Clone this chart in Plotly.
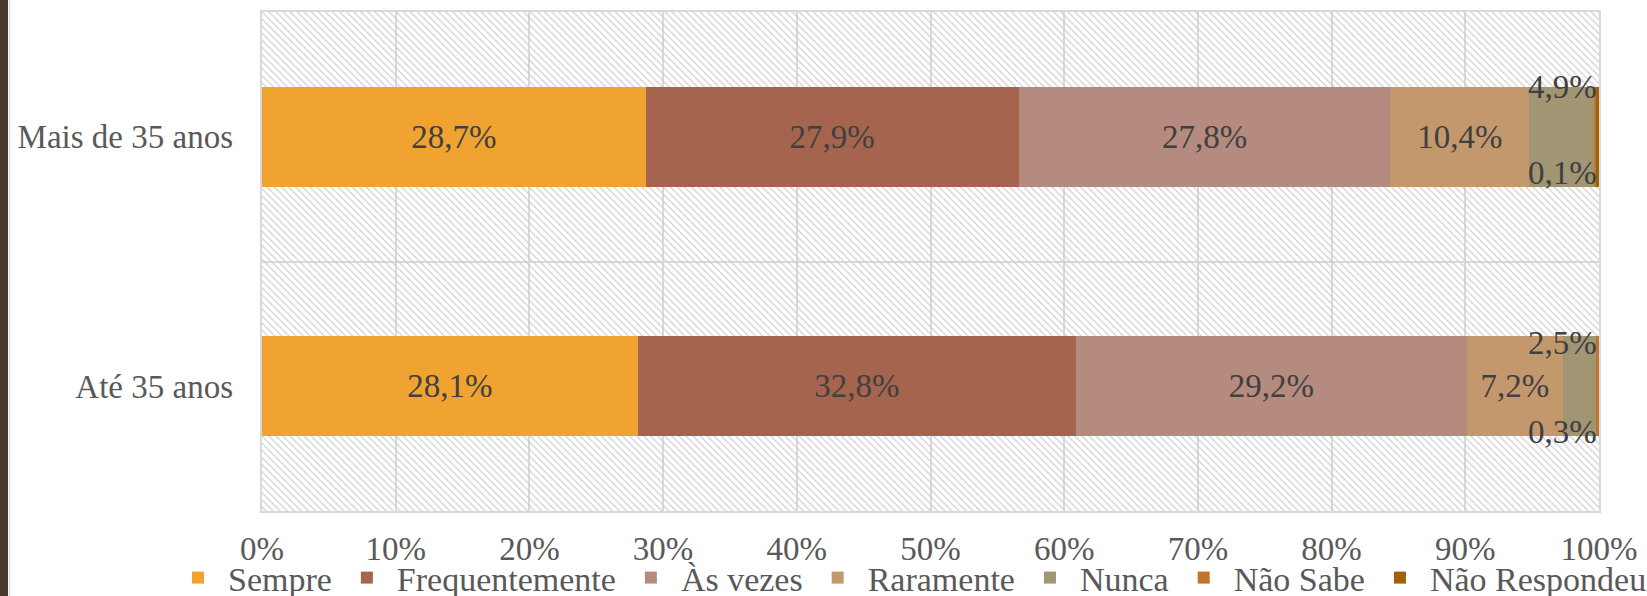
import plotly.graph_objects as go

# categories (bottom to top)
groups = ['Até 35 anos', 'Mais de 35 anos']

# answer options and their colours
answers = ['Sempre', 'Frequentemente', 'Às vezes', 'Raramente', 'Nunca', 'Não Sabe', 'Não Respondeu']
colors = ['#F0A330', '#A5644E', '#B58B80', '#C3986D', '#A19574', '#C17529', '#A3620A']

# percentages per answer, [Até 35, Mais de 35]
sempre = [28.1, 28.7]
frequentemente = [32.8, 27.9]
as_vezes = [29.2, 27.8]
raramente = [7.2, 10.4]
nunca = [2.5, 4.9]
nao_sabe = [0.3, 0.1]
nao_respondeu = [0.0, 0.2]

values = [sempre, frequentemente, as_vezes, raramente, nunca, nao_sabe, nao_respondeu]

FONT = 'Liberation Serif, Times New Roman, serif'
LABEL = '#404040'
AXIS = '#595959'
GRID = '#d9d9d9'
FS = 33

W, H = 1647, 596
ML, MR, MT, MB = 262, 48, 12, 85
PW = W - ML - MR
PH = H - MT - MB

fig = go.Figure()

# hatched plot background
fig.add_trace(go.Bar(
    x=[100], y=[0.5], width=1, orientation='h',
    xaxis='x', yaxis='y',
    marker=dict(color='#cccccc', line=dict(width=0),
                pattern=dict(shape='\\', fgcolor='#cccccc', size=5, solidity=0.22, fillmode='replace')),
    showlegend=False, hoverinfo='skip'
))

# stacked bars
for i, (name, vals) in enumerate(zip(answers, values)):
    has_text = name in ['Sempre', 'Frequentemente', 'Às vezes', 'Raramente']
    fig.add_trace(go.Bar(
        name=name,
        x=vals,
        y=groups,
        yaxis='y2',
        orientation='h',
        width=0.4,
        marker=dict(color=colors[i], line=dict(width=0)),
        texttemplate='%{x:.1f}%' if has_text else None,
        textposition='inside' if has_text else 'none',
        insidetextanchor='middle',
        insidetextfont=dict(family=FONT, size=FS, color=LABEL),
        hovertemplate='%{y}<br>' + name + ': %{x:.1f}%<extra></extra>'
    ))

# labels for the tiny segments, moved above / below the bar (as in the original)
shift_up = {'Até 35 anos': 43, 'Mais de 35 anos': 50}
shift_down = {'Até 35 anos': -46, 'Mais de 35 anos': -36}
totals = [sum(v[j] for v in values) for j in range(len(groups))]
for j, g in enumerate(groups):
    fig.add_annotation(x=min(totals[j], 100), y=g, xref='x', yref='y2',
                       text=f'{nunca[j]:.1f}%'.replace('.', ','),
                       xanchor='right', yanchor='middle', yshift=shift_up[g], showarrow=False,
                       font=dict(family=FONT, size=FS, color=LABEL))
    fig.add_annotation(x=min(totals[j], 100), y=g, xref='x', yref='y2',
                       text=f'{nao_sabe[j]:.1f}%'.replace('.', ','),
                       xanchor='right', yanchor='middle', yshift=shift_down[g], showarrow=False,
                       font=dict(family=FONT, size=FS, color=LABEL))

# dark strip at the left edge of the slide
fig.add_shape(type='rect', xref='paper', yref='paper',
              x0=-ML / PW, x1=-(ML - 8) / PW, y0=-MB / PH, y1=1 + MT / PH,
              fillcolor='#47382e', line=dict(width=0), layer='above')
fig.add_shape(type='line', xref='paper', yref='paper',
              x0=-(ML - 9.5) / PW, x1=-(ML - 9.5) / PW, y0=-MB / PH, y1=1 + MT / PH,
              line=dict(color='#d9d9d9', width=1.5), layer='above')

fig.update_layout(
    width=W,
    height=H,
    barmode='stack',
    separators=',.',
    plot_bgcolor='white',
    paper_bgcolor='white',
    font=dict(family=FONT, color=AXIS),
    margin=dict(l=ML, r=MR, t=MT, b=MB, autoexpand=False),
    xaxis=dict(
        range=[0, 100],
        dtick=10,
        ticksuffix='%',
        tickfont=dict(family=FONT, size=FS, color=AXIS),
        ticks='',
        ticklabelstandoff=8,
        showgrid=True,
        gridcolor=GRID,
        gridwidth=1.5,
        zeroline=False,
        showline=True,
        linecolor=GRID,
        linewidth=1.5,
        mirror=True,
        fixedrange=True,
    ),
    yaxis=dict(
        range=[0, 1],
        dtick=0.5,
        showticklabels=False,
        ticks='',
        showgrid=True,
        gridcolor=GRID,
        gridwidth=1.5,
        zeroline=False,
        showline=True,
        linecolor=GRID,
        linewidth=1.5,
        mirror=True,
        fixedrange=True,
    ),
    yaxis2=dict(
        overlaying='y',
        side='left',
        type='category',
        categoryorder='array',
        categoryarray=groups,
        range=[-0.5, 1.5],
        showgrid=False,
        zeroline=False,
        ticks='',
        ticklabelstandoff=28,
        tickfont=dict(family=FONT, size=FS, color=AXIS),
        fixedrange=True,
    ),
    legend=dict(
        orientation='h',
        traceorder='normal',
        x=-94 / PW,
        xanchor='left',
        y=-67 / PH,
        yanchor='middle',
        font=dict(family=FONT, size=34, color=AXIS),
        bgcolor='rgba(0,0,0,0)',
        itemwidth=50,
    ),
)

fig.write_html("out.html",
               config={'displayModeBar': False},
               post_script="document.body.style.margin='0';document.body.style.overflow='hidden';")
